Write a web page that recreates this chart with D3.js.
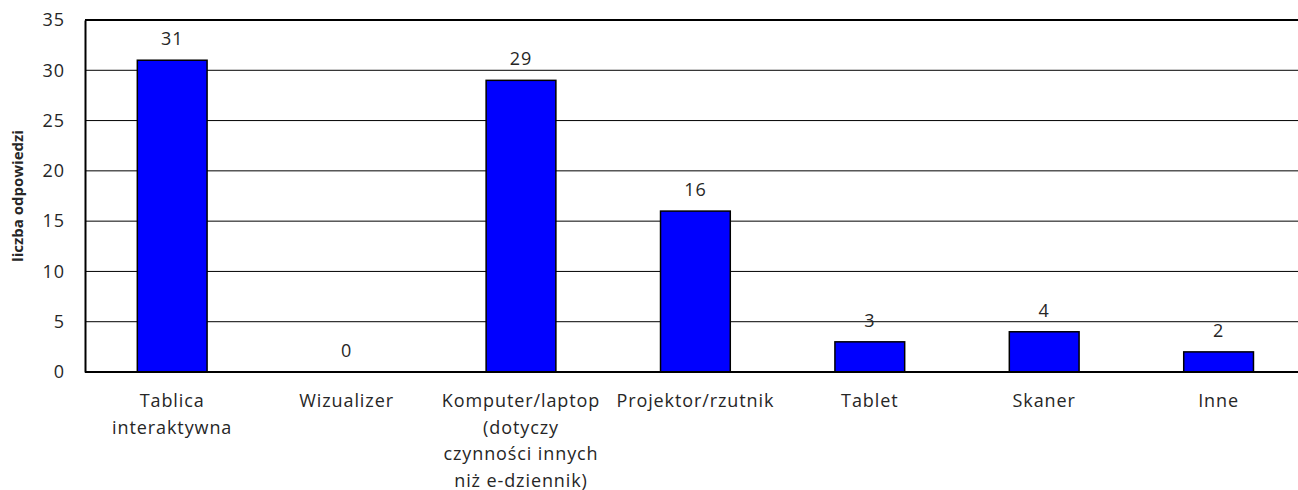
<!DOCTYPE html>
<html><head><meta charset="utf-8">
<script src="https://cdn.jsdelivr.net/npm/d3@7/dist/d3.min.js"></script>
<style>body{margin:0;background:#fff}svg{display:block}text{font-family:"Open Sans",sans-serif;fill:#262626}</style>
</head><body><svg id="c" width="1298" height="490"></svg>
<script>
const categories = ["Tablica interaktywna","Wizualizer","Komputer/laptop (dotyczy czynności innych niż e-dziennik)","Projektor/rzutnik","Tablet","Skaner","Inne"];
const categoryLines = [["Tablica","interaktywna"],["Wizualizer"],["Komputer/laptop","(dotyczy","czynności innych","niż e-dziennik)"],["Projektor/rzutnik"],["Tablet"],["Skaner"],["Inne"]];
const values = [31,0,29,16,3,4,2];
const yTicks = [0,5,10,15,20,25,30,35];
const yTitle = "liczba odpowiedzi";

const svg = d3.select("#c");
const L = 85, T = 20, B = 372, R = 85 + 174.4*7;
const x = d3.scaleBand().domain(categories).range([L, R]).paddingInner(0.6).paddingOuter(0.3);
const y = d3.scaleLinear().domain([0,35]).range([B, T]);
const FS = "18px", LS = "0.9px";

svg.append("g").selectAll("line").data(yTicks.filter(t=>t>0 && t<35)).join("line")
  .attr("x1", L).attr("x2", 1298).attr("y1", d=>y(d)).attr("y2", d=>y(d))
  .attr("stroke", "#000").attr("stroke-width", 1);
svg.append("line").attr("x1", L).attr("x2", 1298).attr("y1", y(35)).attr("y2", y(35)).attr("stroke","#000").attr("stroke-width",2);

svg.append("g").selectAll("rect").data(values).join("rect")
  .attr("x", (d,i)=>x(categories[i])).attr("width", x.bandwidth())
  .attr("y", d=>y(d)).attr("height", d=>B - y(d))
  .attr("fill", "#0000FF").attr("stroke", "#000").attr("stroke-width", 1.5);

const ya = svg.append("g").attr("transform", `translate(${L},0)`)
  .call(d3.axisLeft(y).tickValues(yTicks).tickSize(0).tickPadding(20));
ya.select(".domain").attr("stroke","#000").attr("stroke-width",2);
ya.selectAll("text").style("font-size",FS).style("letter-spacing",LS).attr("fill","#262626").style("font-family","Open Sans");
svg.append("line").attr("x1", L).attr("x2", 1298).attr("y1", B).attr("y2", B).attr("stroke","#000").attr("stroke-width",2);

svg.append("g").selectAll("text").data(values).join("text")
  .attr("x", (d,i)=>x(categories[i]) + x.bandwidth()/2).attr("y", d=>y(d) - 15)
  .attr("text-anchor","middle").style("font-size",FS).style("letter-spacing",LS).text(d=>d);

categoryLines.forEach((lines,i)=>{
  const cx = x(categories[i]) + x.bandwidth()/2;
  const t = svg.append("text").attr("x", cx).attr("y", 407)
    .attr("text-anchor","middle").style("font-size",FS).style("letter-spacing",LS);
  lines.forEach((ln,j)=> t.append("tspan").attr("x", cx).attr("dy", j===0?0:26.5).text(ln));
});

svg.append("text").attr("transform", `translate(23,${(T+B)/2}) rotate(-90)`)
  .attr("text-anchor","middle").style("font-size","15px").style("font-weight","bold").attr("fill","#000").text(yTitle);
</script></body></html>
